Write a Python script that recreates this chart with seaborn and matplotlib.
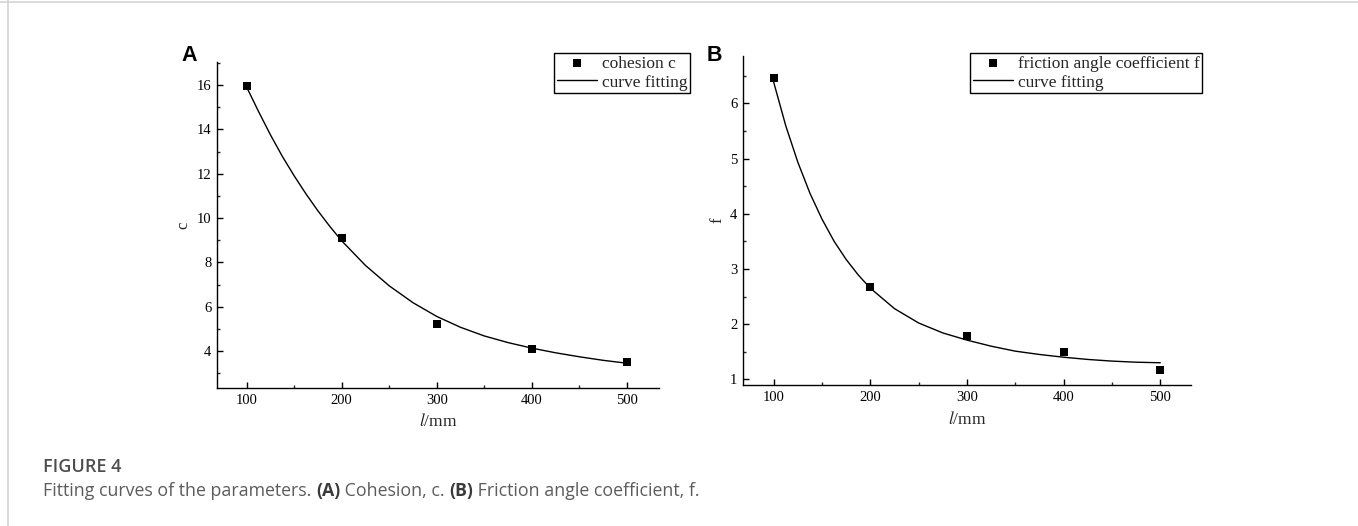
import numpy as np
import pandas as pd
import matplotlib
matplotlib.use("Agg")
import matplotlib.pyplot as plt
import seaborn as sns
from matplotlib.ticker import MultipleLocator
from matplotlib.lines import Line2D

# ---------------- data ----------------
l_points = [100, 200, 300, 400, 500]
cohesion_c = [15.95, 9.08, 5.22, 4.09, 3.49]
friction_f = [6.45, 2.68, 1.78, 1.50, 1.16]

fit_l = [100, 112.5, 125, 137.5, 150, 162.5, 175, 187.5, 200, 225, 250, 275,
         300, 325, 350, 375, 400, 425, 450, 475, 500]
fit_c = [15.9, 14.8, 13.75, 12.78, 11.9, 11.08, 10.32, 9.62, 8.97, 7.86, 6.94,
         6.18, 5.56, 5.07, 4.68, 4.38, 4.13, 3.92, 3.74, 3.58, 3.45]
fit_f = [6.38, 5.59, 4.93, 4.37, 3.90, 3.50, 3.17, 2.89, 2.65, 2.28, 2.02,
         1.84, 1.71, 1.60, 1.51, 1.45, 1.40, 1.36, 1.33, 1.31, 1.30]

panel_labels = ["A", "B"]
y_labels = ["c", "f"]
legend_labels = ["cohesion c", "friction angle coefficient f"]
fit_label = "curve fitting"
x_label = "$l$/mm"
caption_title = "FIGURE 4"

# ---------------- style ----------------
sns.set_style("ticks")
plt.rcParams["font.family"] = ["Liberation Serif", "DejaVu Serif"]
plt.rcParams["mathtext.fontset"] = "stix"

W, H = 1358, 526
fig = plt.figure(figsize=(W / 100, H / 100), dpi=100)
fig.patch.set_facecolor("white")


def fx(px):
    return px / W


def fy(py):
    return 1 - py / H


# axes rectangles (pixels: left, top, right, bottom)
rects = [(217, 62, 659, 388), (743, 56, 1191, 385)]
xlims = [(68.7, 534), (68.2, 531.8)]
ylims = [(2.33, 17.04), (0.897, 6.857)]
ymaj = [2, 1]
ymin_ = [1, 0.5]
ytick_start = [4, 1]
ytick_end = [16, 6]
legend_anchor = [(554, 53), (970, 53)]
label_pos = [(181, 45), (707, 45)]
ylabelpad = [4, 3]

datasets = [
    (pd.DataFrame({"l": l_points, "v": cohesion_c}), pd.DataFrame({"l": fit_l, "v": fit_c})),
    (pd.DataFrame({"l": l_points, "v": friction_f}), pd.DataFrame({"l": fit_l, "v": fit_f})),
]

for i in range(2):
    L, T, R, B = rects[i]
    ax = fig.add_axes([fx(L), fy(B), (R - L) / W, (B - T) / H])
    pts, fit = datasets[i]
    sns.scatterplot(data=pts, x="l", y="v", marker="s", s=32, color="black",
                    linewidth=0, ax=ax, label=legend_labels[i], zorder=3)
    sns.lineplot(data=fit, x="l", y="v", color="black", linewidth=1.0,
                 ax=ax, label=fit_label, zorder=2)
    ax.set_xlim(*xlims[i])
    ax.set_ylim(*ylims[i])
    ax.set_xticks(l_points)
    ax.set_yticks(np.arange(ytick_start[i], ytick_end[i] + 0.01, ymaj[i]))
    ax.xaxis.set_minor_locator(MultipleLocator(50))
    ax.yaxis.set_minor_locator(MultipleLocator(ymin_[i]))
    for s in ["top", "right"]:
        ax.spines[s].set_visible(False)
    for s in ["left", "bottom"]:
        ax.spines[s].set_linewidth(1.0)
        ax.spines[s].set_color("black")
    ax.tick_params(which="major", direction="in", length=4.5, width=1.0,
                   labelsize=10.5, pad=4, colors="black")
    ax.tick_params(which="minor", direction="in", length=2.5, width=1.0)
    ax.set_xlabel(x_label, fontsize=12.5, labelpad=5)
    ax.set_ylabel(y_labels[i], fontsize=12, labelpad=ylabelpad[i])
    ax.grid(False)

    handles, labels = ax.get_legend_handles_labels()
    leg = ax.legend(handles, labels, loc="upper left",
                    bbox_to_anchor=(fx(legend_anchor[i][0]), fy(legend_anchor[i][1])),
                    bbox_transform=fig.transFigure, fontsize=12.5,
                    frameon=True, fancybox=False, shadow=False,
                    borderpad=0.15, labelspacing=0.15, handlelength=2.3,
                    handletextpad=0.3, borderaxespad=0, scatterpoints=1,
                    markerscale=1.0)
    leg.get_frame().set_edgecolor("black")
    leg.get_frame().set_linewidth(1.0)
    leg.get_frame().set_facecolor("white")
    leg.get_frame().set_alpha(1)

    fig.text(fx(label_pos[i][0]), fy(label_pos[i][1]), panel_labels[i],
             family="Liberation Sans", fontweight="bold", fontsize=15.5,
             ha="left", va="top", color="black")

# frame lines of the figure page
fig.add_artist(Line2D([0, 1], [fy(1.5), fy(1.5)], transform=fig.transFigure,
                      color="#d4d4d4", lw=1.2))
fig.add_artist(Line2D([fx(8), fx(8)], [fy(0), fy(526)], transform=fig.transFigure,
                      color="#d4d4d4", lw=1.2))

# caption
fig.text(fx(43), fy(467), caption_title, family="Open Sans", fontsize=13,
         fontweight="semibold", color="#4d4d4d", va="center", ha="left")

pieces = [("Fitting curves of the parameters. ", "normal", "#5c5c5c"),
          ("(A)", "bold", "#3a3a3a"),
          (" Cohesion, c. ", "normal", "#5c5c5c"),
          ("(B)", "bold", "#3a3a3a"),
          (" Friction angle coefficient, f.", "normal", "#5c5c5c")]
renderer = fig.canvas.get_renderer()
xpos = 43
for txt, wt, col in pieces:
    t = fig.text(fx(xpos), fy(491), txt, family="Open Sans", fontsize=12.8,
                 fontweight=wt, color=col, va="center", ha="left")
    bb = t.get_window_extent(renderer=renderer)
    xpos += bb.width

fig.savefig("out.png", dpi=100, facecolor="white")
